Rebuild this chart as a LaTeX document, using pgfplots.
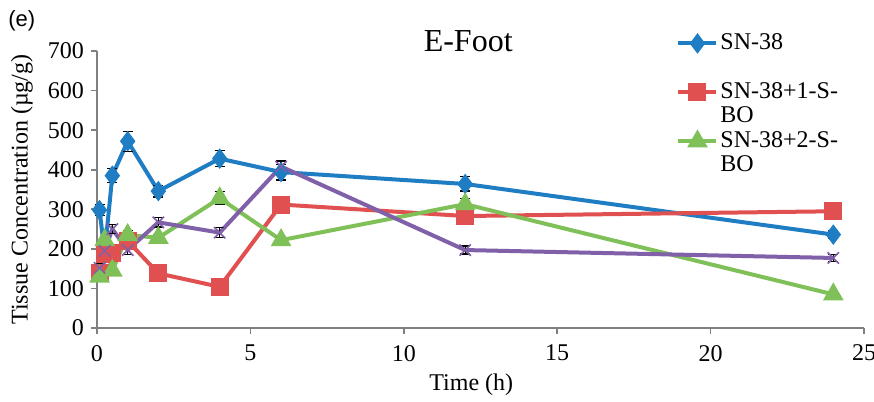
\documentclass[border=0pt]{standalone}
\usepackage{fontspec}
\setmainfont{Liberation Serif}
\newfontfamily\arialfont{Liberation Sans}
\usepackage{pgfplots}
\pgfplotsset{compat=1.18}
\definecolor{cblue}{RGB}{30,125,195}
\definecolor{cred}{RGB}{225,80,80}
\definecolor{cgreen}{RGB}{128,192,88}
\definecolor{cpurple}{RGB}{128,96,168}
\pgfplotsset{
  ebars/.style={error bars/.cd, y dir=both, y explicit,
    error bar style={black,line width=0.6pt},
    error mark options={black,rotate=90,mark size=2.5pt,line width=0.6pt}},
}
\begin{document}
\begin{tikzpicture}
\useasboundingbox (-48.5pt,-37pt) rectangle (388.5pt,164pt);
\begin{axis}[
  at={(0,0)}, anchor=origin,
  scale only axis, width=383.5pt, height=138.5pt,
  xmin=0, xmax=25, ymin=0, ymax=700,
  xtick={0,5,...,25}, ytick={0,100,...,700},
  axis lines=left, axis line style={gray,line width=1pt,-},
  tick align=outside, major tick length=3pt,
  tick style={gray,line width=0.8pt},
  font=\fontsize{12}{14}\selectfont,
  /pgf/number format/assume math mode=true,
  xticklabel style={yshift=-2pt},
  xlabel={Time (h)}, ylabel={Tissue Concentration (µg/g)},
  xlabel style={at={(axis description cs:0.488,-0.206)},anchor=center},
  ylabel style={at={(axis description cs:-0.098,0.5)},anchor=center},
  clip=false,
  legend style={at={(axis description cs:0.755,1.073)}, anchor=north west,
    draw=none, fill=none, inner sep=0pt, row sep=0pt,
    font=\fontsize{12}{14}\selectfont,
    nodes={inner sep=1pt, text height=8pt, text depth=2.25pt}},
  legend cell align=left,
  legend image code/.code={\draw[mark repeat=2,mark phase=2,#1]
    plot coordinates {(0pt,0pt) (9.5pt,0pt) (19pt,0pt)};},
]
\addplot[cblue, line width=2pt, mark=diamond*, mark size=3.5pt, mark options={solid}, ebars]
  coordinates {(0.083,298) +- (0,14) (0.25,190) +- (0,10) (0.5,385) +- (0,18)
  (1,472) +- (0,25) (2,346) +- (0,15) (4,428) +- (0,20) (6,394) +- (0,20)
  (12,364) +- (0,18) (24,236) +- (0,10)};
\addlegendentry{SN-38}
\addlegendimage{empty legend}\addlegendentry{}
\addplot[cred, line width=2pt, mark=square*, mark size=3.5pt, ebars]
  coordinates {(0.083,140) +- (0,8) (0.25,188) +- (0,8) (0.5,190) +- (0,8)
  (1,220) +- (0,10) (2,138) +- (0,6) (4,104) +- (0,6) (6,312) +- (0,8)
  (12,283) +- (0,8) (24,295) +- (0,6)};
\addlegendentry{SN-38+1-S-}
\addlegendimage{empty legend}\addlegendentry{BO}
\addplot[cgreen, line width=2pt, mark=triangle*, mark size=4pt, ebars]
  coordinates {(0.083,130) +- (0,8) (0.25,222) +- (0,10) (0.5,145) +- (0,8)
  (1,235) +- (0,12) (2,228) +- (0,8) (4,328) +- (0,16) (6,222) +- (0,8)
  (12,313) +- (0,15) (24,85) +- (0,6)};
\addlegendentry{SN-38+2-S-}
\addlegendimage{empty legend}\addlegendentry{BO}
\addplot[cpurple, line width=2pt, mark=x, mark size=4pt, mark options={line width=0.8pt}, forget plot, ebars]
  coordinates {(0.083,152) +- (0,10) (0.25,195) +- (0,10) (0.5,250) +- (0,12)
  (1,197) +- (0,12) (2,267) +- (0,12) (4,241) +- (0,12) (6,408) +- (0,14)
  (12,197) +- (0,10) (24,177) +- (0,8)};
\node[font=\fontsize{16}{18}\selectfont] at (axis description cs:0.484,1.036) {E-Foot};
\node[font=\arialfont\fontsize{11}{13}\selectfont] at (axis description cs:-0.098,1.108) {(e)};
\end{axis}
\end{tikzpicture}
\end{document}
